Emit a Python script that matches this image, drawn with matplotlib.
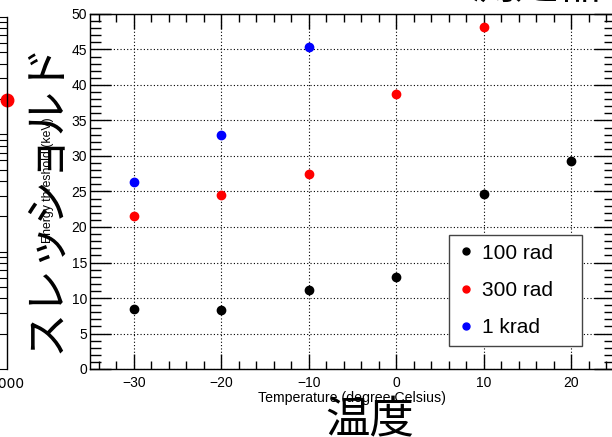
import matplotlib
matplotlib.use("Agg")
import matplotlib.pyplot as plt
from matplotlib.ticker import MultipleLocator, FixedLocator, LogLocator, NullFormatter
from matplotlib.lines import Line2D

# ---- data ----
temp_100rad = [-30, -20, -10, 0, 10, 20]
thr_100rad = [8.4, 8.3, 11.1, 12.9, 24.7, 29.3]
temp_300rad = [-30, -20, -10, 0, 10]
thr_300rad = [21.6, 24.5, 27.5, 38.8, 48.2]
temp_1krad = [-30, -20, -10]
thr_1krad = [26.3, 32.9, 45.4]
series_labels = ["100 rad", "300 rad", "1 krad"]
series_colors = ["black", "red", "blue"]

left_x = [1000]
left_y = [1980]
left_xticks = [1000]

W, H = 612, 437
fig = plt.figure(figsize=(W / 100, H / 100), dpi=100)
fig.patch.set_facecolor("white")

SANS = ["Liberation Sans", "DejaVu Sans"]
CJK = ["Noto Sans CJK JP", "DejaVu Sans"]

# ---- left (partially visible) axes ----
axl = fig.add_axes([-1.0, (H - 369) / H, 1.0 + 7 / W, (369 - 17) / H])
axl.set_yscale("log")
axl.set_xlim(0, 1000)
axl.set_ylim(10, 1e4)
for s in ["left", "top", "bottom"]:
    axl.spines[s].set_visible(False)
axl.spines["right"].set_linewidth(1.0)
axl.yaxis.set_ticks_position("right")
axl.yaxis.set_major_locator(LogLocator(base=10))
axl.yaxis.set_minor_locator(LogLocator(base=10, subs=range(2, 10)))
axl.yaxis.set_major_formatter(NullFormatter())
axl.yaxis.set_minor_formatter(NullFormatter())
axl.tick_params(axis="y", which="both", direction="in", length=7, width=0.8, right=True, left=False)
axl.xaxis.set_major_locator(FixedLocator(left_xticks))
axl.tick_params(axis="x", which="both", length=0, labelsize=10, pad=6)
axl.plot(left_x, left_y, "o", color="red", ms=9, clip_on=False)
axl.patch.set_alpha(0)

# ---- main axes ----
ax = fig.add_axes([90 / W, (H - 369) / H, 525 / W, 355 / H])
ax.set_xlim(-35, 25)
ax.set_ylim(0, 50)
ax.xaxis.set_major_locator(MultipleLocator(10))
ax.xaxis.set_minor_locator(MultipleLocator(2))
ax.yaxis.set_major_locator(MultipleLocator(5))
ax.yaxis.set_minor_locator(MultipleLocator(1))
ax.tick_params(axis="x", which="major", direction="in", length=11, width=1, top=True, bottom=True, pad=5)
ax.tick_params(axis="x", which="minor", direction="in", length=6, width=1, top=True, bottom=True)
ax.tick_params(axis="y", which="major", direction="in", length=15, width=1, left=True, right=True, pad=2)
ax.tick_params(axis="y", which="minor", direction="in", length=8, width=1, left=True, right=True)
for lab in ax.get_xticklabels() + ax.get_yticklabels():
    lab.set_family(SANS)
    lab.set_fontsize(10)
ax.grid(True, which="major", linestyle=(0, (1, 2)), color="black", linewidth=0.8)
ax.set_axisbelow(True)
for s in ax.spines.values():
    s.set_linewidth(1.0)

ax.plot(temp_100rad, thr_100rad, "o", color=series_colors[0], ms=6, zorder=3)
ax.plot(temp_300rad, thr_300rad, "o", color=series_colors[1], ms=6, zorder=3)
ax.plot(temp_1krad, thr_1krad, "o", color=series_colors[2], ms=6, zorder=3)

handles = [Line2D([], [], linestyle="none", marker="o", color=c, ms=5) for c in series_colors]
x0 = (449 - 90) / 525
x1 = (582 - 90) / 525
y0 = (369 - 346) / 355
leg = ax.legend(handles, series_labels, loc="lower left",
                bbox_to_anchor=(x0, y0, x1 - x0, 0.2), mode="expand",
                borderaxespad=0, prop={"family": SANS, "size": 15},
                handlelength=0.8, handletextpad=0.37, labelspacing=0.88,
                borderpad=0.42, fancybox=False, framealpha=1,
                edgecolor="#444444")
leg.get_frame().set_linewidth(1.0)

# axis titles (ROOT-style)
fig.text(352 / W, 1 - 398 / H, "Temperature (degree Celsius)", ha="center", va="center",
         family=SANS, fontsize=10.2)
fig.text(48 / W, 1 - 180 / H, "Energy threshold (keV)", ha="center", va="center",
         rotation=90, family=SANS, fontsize=8.8)

# outer figure labels (Japanese)
fig.text(370 / W, 1 - 420 / H, "温度", ha="center", va="center", family=CJK, fontsize=32)
fig.text(45 / W, 1 - 197 / H, "スレッショルド", ha="center", va="center",
         rotation=90, family=CJK, fontsize=32)
fig.text(604 / W, 1 - 8 / H, "測定器", ha="right", va="bottom", family=CJK, fontsize=32)

fig.savefig("out.png", dpi=100)
